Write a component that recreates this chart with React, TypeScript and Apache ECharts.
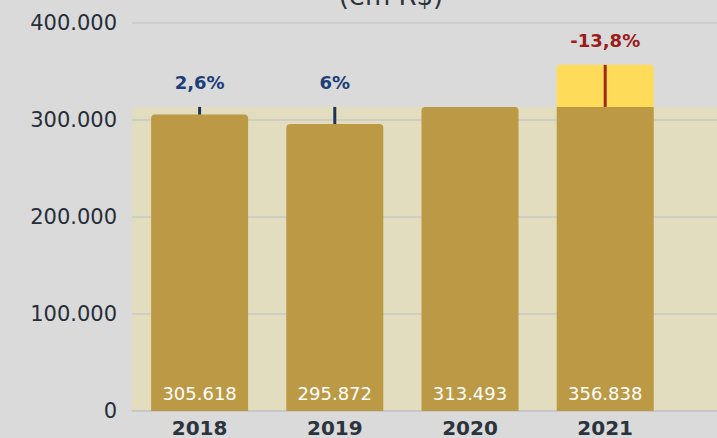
import React, { useEffect, useRef } from "react";
import * as echarts from "echarts";

const categories = ["2018", "2019", "2020", "2021", ""];
const values = [305618, 295872, 313493, 356838];
const pctLabels = ["2,6%", "6%", "", "-13,8%"];
const refIndex = 2;
const yTicks = { min: 0, max: 400000, interval: 100000 };
const titleText = "(em R$)";

const fmt = (n: number) => String(n).replace(/\B(?=(\d{3})+(?!\d))/g, ".");

export default function App() {
  const ref = useRef<HTMLDivElement>(null);
  useEffect(() => {
    if (!ref.current) return;
    const chart = echarts.init(ref.current, undefined, { renderer: "svg" });
    const refVal = values[refIndex];
    const base = values.map((v) => ({
      value: Math.min(v, refVal),
      itemStyle: { borderRadius: v > refVal ? [0, 0, 0, 0] : [4, 4, 0, 0] },
    }));
    const over = values.map((v) => (v > refVal ? v - refVal : "-"));
    const font = '"DejaVu Sans", sans-serif';
    chart.setOption({
      animation: false,
      backgroundColor: "#dadada",
      grid: { left: 132, right: 0, top: 23, bottom: 26 },
      graphic: [
        {
          type: "text",
          x: 391,
          y: -4,
          style: {
            text: titleText,
            fill: "#2f3338",
            fontSize: 26,
            fontFamily: font,
            align: "center",
            verticalAlign: "middle",
          },
        },
      ],
      xAxis: {
        type: "category",
        data: categories,
        z: 2,
        axisTick: { show: false },
        axisLine: { lineStyle: { color: "#c2c5c8", width: 1.5 } },
        axisLabel: {
          color: "#2b333d",
          fontSize: 20,
          fontWeight: "bold",
          fontFamily: font,
          margin: 7,
        },
      },
      yAxis: {
        type: "value",
        min: yTicks.min,
        max: yTicks.max,
        interval: yTicks.interval,
        z: 2,
        axisLine: { show: false },
        axisTick: { show: false },
        splitLine: { lineStyle: { color: "#c8c8c3", width: 1.5 } },
        axisLabel: {
          color: "#262e38",
          fontSize: 21,
          fontFamily: font,
          margin: 15,
          formatter: (v: number) => fmt(v),
        },
      },
      series: [
        {
          type: "bar",
          stack: "a",
          z: 3,
          barWidth: 97,
          data: base,
          itemStyle: { color: "#bc9944" },
          label: {
            show: true,
            position: "insideBottom",
            distance: 9,
            color: "#ffffff",
            fontSize: 18,
            fontFamily: font,
            formatter: (p: any) => fmt(values[p.dataIndex]),
          },
          markArea: {
            silent: true,
            z: 1,
            itemStyle: { color: "#e2ddbe" },
            label: { show: false },
            data: [[{ yAxis: 0 }, { yAxis: refVal }]],
          },
        },
        {
          type: "bar",
          stack: "a",
          z: 3,
          barWidth: 97,
          data: over,
          itemStyle: { color: "#fedb58", borderRadius: [4, 4, 0, 0] },
        },
        {
          type: "custom",
          z: 5,
          data: values.map((v, i) => [i, v]),
          renderItem: (params: any, api: any) => {
            const i = api.value(0);
            const v = api.value(1);
            const label = pctLabels[params.dataIndex];
            if (!label) return { type: "group", children: [] };
            const p0 = api.coord([i, refVal]);
            const p1 = api.coord([i, v]);
            const top = Math.min(p0[1], p1[1]);
            const up = v > refVal;
            return {
              type: "group",
              children: [
                {
                  type: "line",
                  shape: { x1: p0[0], y1: p0[1], x2: p1[0], y2: p1[1] },
                  style: { stroke: up ? "#a3261a" : "#1e3357", lineWidth: 3 },
                },
                {
                  type: "text",
                  x: p0[0],
                  y: top - 24,
                  style: {
                    text: label,
                    fill: up ? "#9a1b1b" : "#1d3e78",
                    fontSize: 18,
                    fontWeight: "bold",
                    fontFamily: font,
                    align: "center",
                    verticalAlign: "middle",
                  },
                },
              ],
            };
          },
        },
      ],
    });
    return () => chart.dispose();
  }, []);
  return (
    <div
      style={{
        position: "fixed",
        left: 0,
        top: 0,
        width: 717,
        height: 438,
        overflow: "hidden",
      }}
    >
      <div ref={ref} style={{ width: 808, height: 438 }} />
    </div>
  );
}
